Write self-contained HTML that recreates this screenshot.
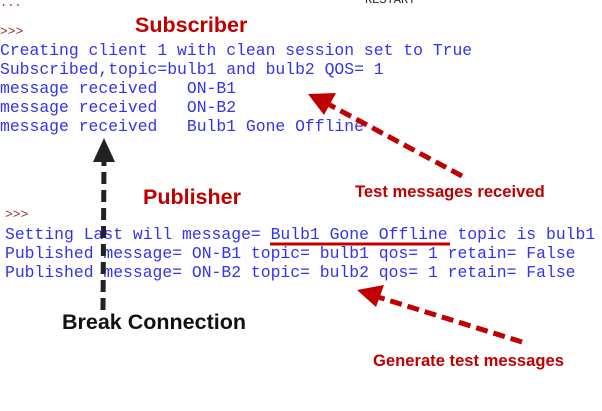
<!DOCTYPE html>
<html><head><style>
body{margin:0;width:602px;height:411px;background:#fff;position:relative;overflow:hidden;font-family:"Liberation Sans",sans-serif}
.m{position:absolute;font-family:"Liberation Mono",monospace;font-size:16.4px;color:#3333ee;white-space:pre;line-height:19px}
.t{position:absolute;font-weight:bold;white-space:nowrap}
</style></head><body>
<div class="m" style="left:0;top:-6px;color:#a03030;font-size:12px">...</div>
<div class="m" style="left:365px;top:-9px;color:#222;font-size:12px">RESTART</div>
<div class="m" style="left:0;top:22px;color:#a03030;font-size:13px">&gt;&gt;&gt;</div>
<div class="m" style="left:0;top:41px">Creating client 1 with clean session set to True
Subscribed,topic=bulb1 and bulb2 QOS= 1
message received   ON-B1
message received   ON-B2
message received   Bulb1 Gone Offline</div>
<div class="m" style="left:5px;top:205px;color:#a03030;font-size:13px">&gt;&gt;&gt;</div>
<div class="m" style="left:5px;top:225px">Setting Last will message= Bulb1 Gone Offline topic is bulb1
Published message= ON-B1 topic= bulb1 qos= 1 retain= False
Published message= ON-B2 topic= bulb2 qos= 1 retain= False</div>
<div class="t" style="left:135px;top:13px;font-size:21.5px;color:#c00000">Subscriber</div>
<div class="t" style="left:143px;top:185px;font-size:21.5px;color:#c00000">Publisher</div>
<div class="t" style="left:355px;top:182px;font-size:16.6px;color:#c00000">Test messages received</div>
<div class="t" style="left:373px;top:351px;font-size:16.6px;color:#c00000">Generate test messages</div>
<div class="t" style="left:62px;top:310px;font-size:21.5px;color:#111">Break Connection</div>
<svg width="602" height="411" style="position:absolute;left:0;top:0">
<line x1="270" y1="244" x2="450" y2="244" stroke="#c00000" stroke-width="3"/>
<line x1="462" y1="176" x2="328" y2="104" stroke="#c00000" stroke-width="5" stroke-dasharray="12,6"/>
<polygon points="308,94 336,93 324,115" fill="#c00000"/>
<line x1="522" y1="342" x2="378" y2="297" stroke="#c00000" stroke-width="5" stroke-dasharray="12,6"/>
<polygon points="357,290 384,285 376,307" fill="#c00000"/>
<line x1="103" y1="310" x2="104" y2="158" stroke="#222" stroke-width="5" stroke-dasharray="12,6"/>
<polygon points="104,138 93,162 115,162" fill="#222"/>
</svg>
</body></html>
